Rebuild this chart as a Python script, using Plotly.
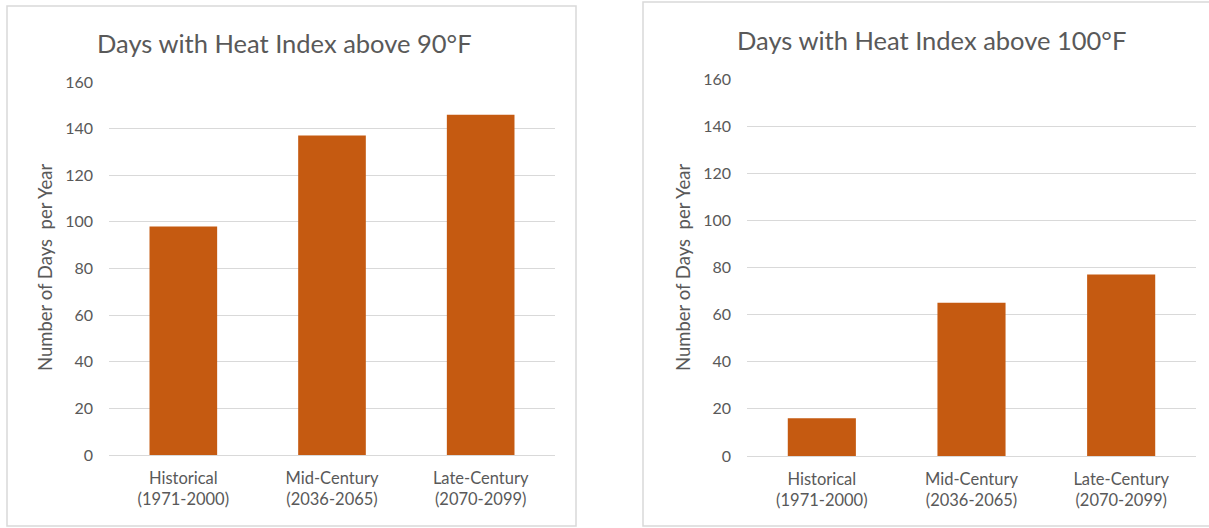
import plotly.graph_objects as go

# Data
categories = ["Historical<br>(1971-2000)", "Mid-Century<br>(2036-2065)", "Late-Century<br>(2070-2099)"]
days_above_90 = [98, 137, 146]
days_above_100 = [16, 65, 77]
titles = ["Days with Heat Index above 90°F", "Days with Heat Index above 100°F"]
y_title = "Number of Days\u00a0 per Year"
y_ticks = [0, 20, 40, 60, 80, 100, 120, 140, 160]

W, H = 1209, 528
BAR = "#C55A11"
GRID = "#D9D9D9"
TXT = "#595959"
FONT = "Lato, 'Open Sans', sans-serif"

fig = go.Figure()
fig.add_trace(go.Bar(x=categories, y=days_above_90, marker=dict(color=BAR, line=dict(width=0)),
                     xaxis="x", yaxis="y", showlegend=False))
fig.add_trace(go.Bar(x=categories, y=days_above_100, marker=dict(color=BAR, line=dict(width=0)),
                     xaxis="x2", yaxis="y2", showlegend=False))


def px(x):
    return x / W


def py(y):
    return 1 - y / H


yaxis_common = dict(range=[0, 160], tickvals=y_ticks, showgrid=True, gridcolor=GRID, gridwidth=1,
                    zeroline=True, zerolinecolor=GRID, zerolinewidth=1, showline=False,
                    tickfont=dict(family=FONT, size=16, color=TXT), ticks="", ticklabelstandoff=15,
                    automargin=False, fixedrange=True)
xaxis_common = dict(showgrid=False, zeroline=False, showline=False, ticks="",
                    tickfont=dict(family=FONT, size=16.5, color=TXT), ticklabelstandoff=11,
                    automargin=False, fixedrange=True)

fig.update_layout(
    template="none",
    width=W, height=H, margin=dict(l=0, r=0, t=0, b=0, pad=0, autoexpand=False),
    paper_bgcolor="white", plot_bgcolor="white", bargap=0.545,
    font=dict(family=FONT, color=TXT),
    xaxis=dict(domain=[px(109), px(555)], anchor="y", **xaxis_common),
    yaxis=dict(domain=[py(455), py(82)], anchor="x", **yaxis_common),
    xaxis2=dict(domain=[px(747), px(1196)], anchor="y2", **xaxis_common),
    yaxis2=dict(domain=[py(456), py(79)], anchor="x2", **yaxis_common),
)

# Panel frames
fig.add_shape(type="rect", xref="paper", yref="paper", x0=px(7), x1=px(576), y0=py(526), y1=py(6),
              line=dict(color=GRID, width=1.5), fillcolor="rgba(0,0,0,0)", layer="below")
fig.add_shape(type="rect", xref="paper", yref="paper", x0=px(643), x1=px(1216), y0=py(526), y1=py(2),
              line=dict(color=GRID, width=1.5), fillcolor="rgba(0,0,0,0)", layer="below")

# Chart titles
fig.add_annotation(text=titles[0], xref="paper", yref="paper", x=px(284), y=py(43),
                   showarrow=False, xanchor="center", yanchor="middle",
                   font=dict(family=FONT, size=25.5, color=TXT))
fig.add_annotation(text=titles[1], xref="paper", yref="paper", x=px(932), y=py(40),
                   showarrow=False, xanchor="center", yanchor="middle",
                   font=dict(family=FONT, size=25.5, color=TXT))

# Y-axis titles
fig.add_annotation(text=y_title, xref="paper", yref="paper", x=px(45), y=py(268),
                   showarrow=False, textangle=-90, xanchor="center", yanchor="middle",
                   font=dict(family=FONT, size=18.5, color=TXT))
fig.add_annotation(text=y_title, xref="paper", yref="paper", x=px(683), y=py(268),
                   showarrow=False, textangle=-90, xanchor="center", yanchor="middle",
                   font=dict(family=FONT, size=18.5, color=TXT))

fig.write_html("out.html")
